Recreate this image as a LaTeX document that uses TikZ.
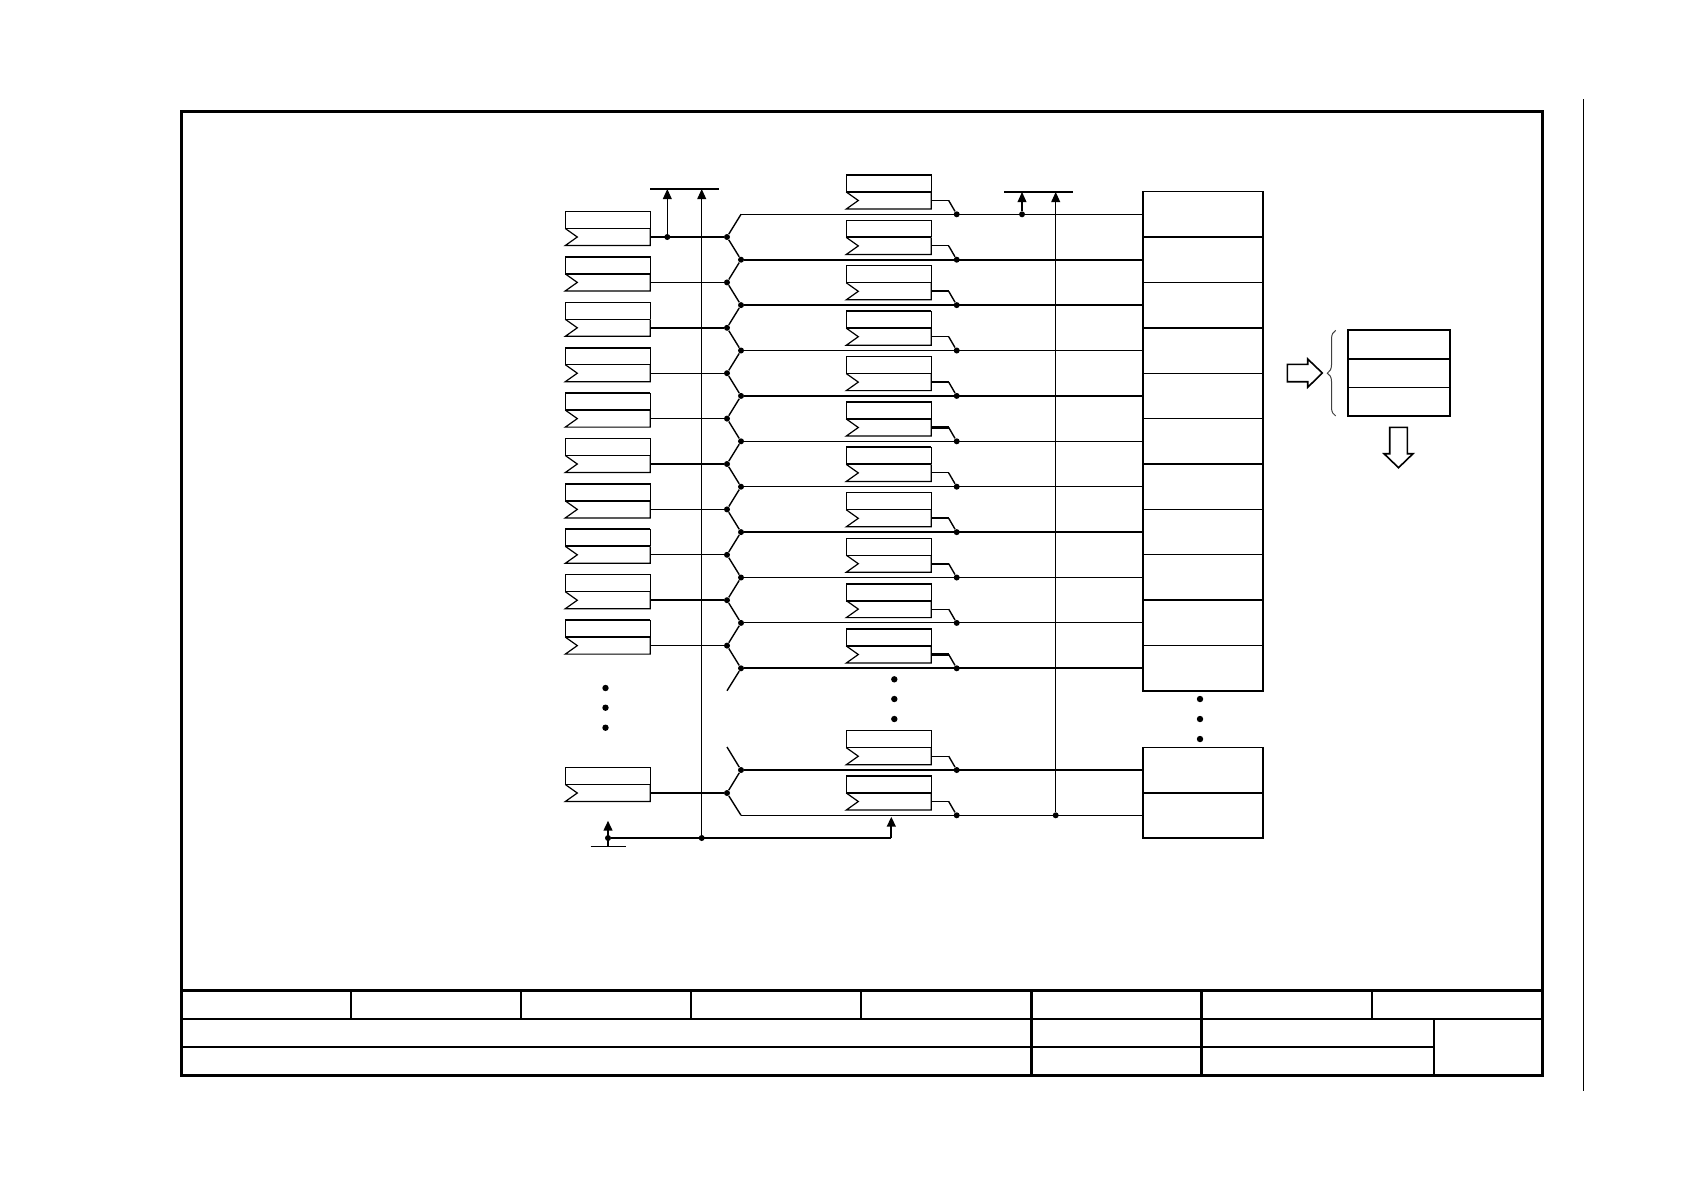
\documentclass[tikz,border=0pt]{standalone}
\usepackage{tikz}
\usetikzlibrary{arrows.meta,decorations.pathreplacing}
\tikzset{
	x=.5pt,y=-.5pt,
	sigthin/.style={line width=.55pt},
	sigthick/.style={line width=1.05pt},
	halfreg/.style={minimum width=42.5pt,minimum height=8.5pt,inner sep=0pt,outer sep=0pt},
	regline/.style={line width=.6pt,line join=miter},
	cellbox/.style={draw=black,line width=.55pt,minimum width=60pt,minimum height=22.7pt,inner sep=0pt,outer sep=0pt},
	statbox/.style={draw=black,line width=.55pt,minimum width=51.3pt,inner sep=0pt,outer sep=0pt},
	jdot/.style={circle,fill=black,inner sep=0pt,minimum size=3pt},
	nub/.style={coordinate},
	rail/.style={line width=.7pt},
	busarrow/.style={line width=.55pt,-{Triangle[length=5pt,width=4.4pt]}},
	hollow/.style={line width=.8pt,fill=white,line join=miter},
	framethick/.style={line width=1.5pt},
	framethin/.style={line width=1pt}
}
\begin{document}
\begin{tikzpicture}
	\useasboundingbox (0,0) rectangle (1684,1190);
	\foreach \i/\y/\ls/\tw/\mw in {0/237/sigthick/sigthin/sigthin,1/282.4/sigthin/sigthick/sigthick,2/327.8/sigthick/sigthin/sigthin,3/373.2/sigthin/sigthick/sigthin,4/418.6/sigthin/sigthick/sigthick,5/464/sigthick/sigthin/sigthin,6/509.4/sigthin/sigthin/sigthick,7/554.8/sigthin/sigthick/sigthick,8/600.2/sigthick/sigthin/sigthin,9/645.6/sigthin/sigthick/sigthick,10/793/sigthick/sigthin/sigthin}{
		\node[halfreg] (lreg\i) at (607.8,\y) {};
		\node[halfreg] (ltop\i) at (607.8,\y-17) {};
		\draw[regline] (ltop\i.south west) -- (ltop\i.north west) -- (ltop\i.north east) -- (ltop\i.south east);
		\draw[regline] (lreg\i.north west) -- ++(12,8.5) -- (lreg\i.south west) -- (lreg\i.south east) -- (lreg\i.north east);
		\draw[\tw] (ltop\i.north west) -- (ltop\i.north east);
		\draw[\mw] (lreg\i.north west) -- (lreg\i.north east);
		\node[jdot] (ljun\i) at (727,\y) {};
		\draw[\ls] (lreg\i.east) -- (ljun\i);
	}
	\foreach \j/\y/\ls/\ds/\tw/\mw/\tp in {0/214.3/sigthin/nub/sigthick/sigthick/sigthin,1/259.7/sigthick/jdot/sigthin/sigthick/sigthin,2/305.1/sigthick/jdot/sigthin/sigthin/sigthick,3/350.5/sigthin/jdot/sigthick/sigthick/sigthin,4/395.9/sigthick/jdot/sigthin/sigthin/sigthick,5/441.3/sigthin/jdot/sigthin/sigthin/sigthick,6/486.7/sigthin/jdot/sigthick/sigthick/sigthin,7/532.1/sigthick/jdot/sigthin/sigthin/sigthick,8/577.5/sigthin/jdot/sigthin/sigthin/sigthick,9/622.9/sigthin/jdot/sigthick/sigthick/sigthin,10/668.3/sigthick/jdot/sigthin/sigthin/sigthick,11/770/sigthick/jdot/sigthin/sigthin/sigthin,12/815.3/sigthin/nub/sigthick/sigthick/sigthin}{
		\node[\ds] (out\j) at (741,\y) {};
		\node[jdot] (mdot\j) at (956.7,\y) {};
		\node[cellbox] (cell\j) at (1203,\y) {};
		\node[halfreg] (mreg\j) at (888.8,\y-13.8) {};
		\node[halfreg] (mtop\j) at (888.8,\y-30.8) {};
		\draw[regline] (mtop\j.south west) -- (mtop\j.north west) -- (mtop\j.north east) -- (mtop\j.south east);
		\draw[regline] (mreg\j.north west) -- ++(12,8.5) -- (mreg\j.south west) -- (mreg\j.south east) -- (mreg\j.north east);
		\draw[\tw] (mtop\j.north west) -- (mtop\j.north east);
		\draw[\mw] (mreg\j.north west) -- (mreg\j.north east);
		\draw[\ls] (out\j) -- (cell\j.west);
		\draw[\tp] (mreg\j.east) -- ++(17.4,0) coordinate (mknee\j);
		\draw[rail] (mknee\j) -- (mdot\j);
	}
	\coordinate (stub0) at (727,690.7);
	\coordinate (stub1) at (727,747);
	\foreach \i/\a/\b in {0/0/1,1/1/2,2/2/3,3/3/4,4/4/5,5/5/6,6/6/7,7/7/8,8/8/9,9/9/10,10/11/12}{
		\draw[rail] (out\a) -- (ljun\i) -- (out\b);
	}
	\draw[rail] (out10) -- (stub0);
	\draw[rail] (out11) -- (stub1);
	\foreach \j in {0,2,5,8,11}{
		\draw[sigthick] (cell\j.south west) -- (cell\j.south east);
	}
	\draw[sigthick] (cell0.north east) -- (cell10.south east);
	\draw[sigthick] (cell11.north east) -- (cell12.south east);
	\coordinate (busa0) at (650,189);
	\coordinate (busa1) at (718.7,189);
	\coordinate (busa2) at (667.3,189);
	\coordinate (busa3) at (701.7,189);
	\coordinate (busb0) at (1004,192);
	\coordinate (busb1) at (1073,192);
	\coordinate (busb2) at (1022,192);
	\coordinate (busb3) at (1055.7,192);
	\draw[sigthick] (busa0) -- (busa1);
	\draw[sigthick] (busb0) -- (busb1);
	\node[jdot] (taporg) at (667.3,237) {};
	\node[jdot] (tapret) at (701.7,838) {};
	\node[jdot] (tapgnd) at (608,838) {};
	\node[jdot] (tapsel) at (1022,214.3) {};
	\node[jdot] (tapend) at (1055.7,815.3) {};
	\coordinate (clkturn) at (891.3,838);
	\coordinate (clktip) at (891.3,816.7);
	\coordinate (gnd0) at (590.7,846.3);
	\coordinate (gnd1) at (626,846.3);
	\coordinate (gndmid) at (608,846.3);
	\coordinate (gndtip) at (608,820.7);
	\draw[busarrow] (taporg) -- (busa2);
	\draw[busarrow] (tapret) -- (busa3);
	\draw[busarrow] (tapsel) -- (busb2);
	\draw[busarrow] (tapend) -- (busb3);
	\draw[sigthick] (tapgnd) -- (clkturn);
	\draw[busarrow,line width=1pt] (clkturn) -- (clktip);
	\draw[busarrow,line width=1pt] (gndmid) -- (gndtip);
	\draw[sigthin] (gnd0) -- (gnd1);
	\foreach \k/\y in {0/688,1/707.7,2/727.7}{
		\node[jdot,minimum size=3.2pt] (ldots\k) at (605.5,\y) {};
	}
	\foreach \k/\y in {0/679.3,1/699,2/719}{
		\node[jdot,minimum size=3.2pt] (mdots\k) at (894.3,\y) {};
	}
	\foreach \k/\y in {0/699,1/719,2/739}{
		\node[jdot,minimum size=3.2pt] (rdots\k) at (1200,\y) {};
	}
	\node[statbox,minimum height=14.3pt] (stat0) at (1399,344.6) {};
	\node[statbox,minimum height=14.2pt] (stat1) at (1399,373.1) {};
	\node[statbox,minimum height=14.3pt] (stat2) at (1399,401.6) {};
	\draw[line width=.85pt] (stat0.north west) rectangle (stat2.south east);
	\draw[sigthick] (stat0.south west) -- (stat0.south east);
	\draw[line width=.5pt,black!75,decorate,decoration={brace,amplitude=4.2pt}] (1335.7,416) -- (1335.7,330.3);
	\draw[hollow] (1287.3,364.3) -- (1307.7,364.3) -- (1307.7,359) -- (1322.3,373) -- (1307.7,387.3) -- (1307.7,381.7) -- (1287.3,381.7) -- cycle;
	\draw[hollow] (1389.7,427.3) -- (1407.3,427.3) -- (1407.3,453.7) -- (1413,453.7) -- (1398.5,467.7) -- (1384,453.7) -- (1389.7,453.7) -- cycle;
	\draw[framethick] (181,111) rectangle (1542,1075);
	\draw[framethick] (181,990.3) -- (1542,990.3);
	\draw[framethin] (181,1018.7) -- (1542,1018.7);
	\draw[framethin] (181,1046.7) -- (1434,1046.7);
	\foreach \x in {351.2,521.4,691,861.3,1372}{
		\draw[framethin] (\x,990.3) -- (\x,1018.7);
	}
	\draw[framethick] (1031,990.3) -- (1031,1075);
	\draw[framethick] (1201.3,990.3) -- (1201.3,1075);
	\draw[framethin] (1433.7,1018.7) -- (1433.7,1075);
	\draw[line width=.45pt] (1583,99) -- (1583,1091);
\end{tikzpicture}
\end{document}
